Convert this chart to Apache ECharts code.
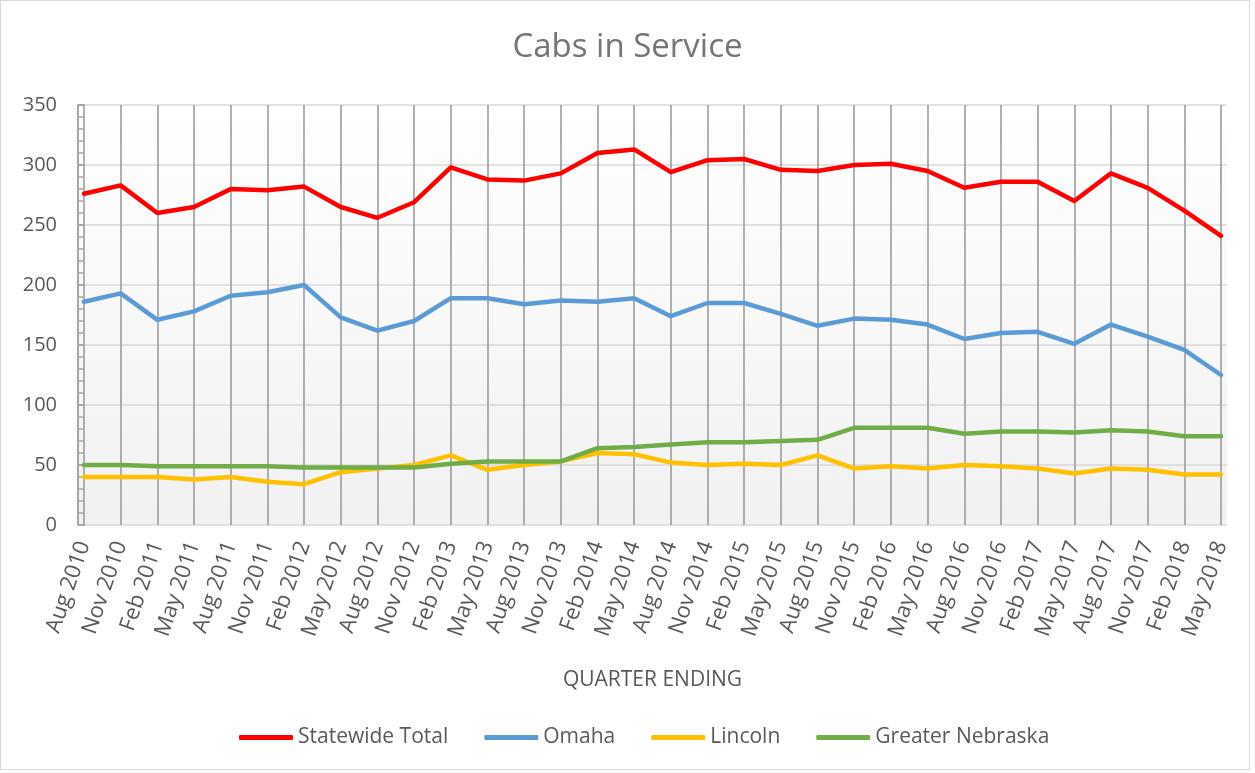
<!DOCTYPE html>
<html>
<head>
<meta charset="utf-8">
<title>Cabs in Service</title>
<script src="https://cdn.jsdelivr.net/npm/echarts@6/dist/echarts.min.js"></script>
<style>
  html, body { margin: 0; padding: 0; background: #fff; }
  #chartBox {
    position: absolute;
    left: 0; top: 0;
    width: 1250px; height: 770px;
    border: 1px solid #d9d9d9;
    box-sizing: border-box;
  }
  #chart { position: absolute; left: 0; top: 0; width: 1255px; height: 773px; }
</style>
</head>
<body>
<div id="chartBox"></div>
<div id="chart"></div>
<script>
// quarter labels
const quarters = [
  'Aug 2010', 'Nov 2010', 'Feb 2011', 'May 2011', 'Aug 2011', 'Nov 2011', 'Feb 2012', 'May 2012',
  'Aug 2012', 'Nov 2012', 'Feb 2013', 'May 2013', 'Aug 2013', 'Nov 2013', 'Feb 2014', 'May 2014',
  'Aug 2014', 'Nov 2014', 'Feb 2015', 'May 2015', 'Aug 2015', 'Nov 2015', 'Feb 2016', 'May 2016',
  'Aug 2016', 'Nov 2016', 'Feb 2017', 'May 2017', 'Aug 2017', 'Nov 2017', 'Feb 2018', 'May 2018'
];
const statewideTotal = [276, 283, 260, 265, 280, 279, 282, 265, 256, 269, 298, 288, 287, 293, 310, 313,
  294, 304, 305, 296, 295, 300, 301, 295, 281, 286, 286, 270, 293, 281, 262, 241];
const omaha = [186, 193, 171, 178, 191, 194, 200, 173, 162, 170, 189, 189, 184, 187, 186, 189,
  174, 185, 185, 176, 166, 172, 171, 167, 155, 160, 161, 151, 167, 157, 146, 125];
const lincoln = [40, 40, 40, 38, 40, 36, 34, 44, 47, 50, 58, 46, 50, 53, 60, 59,
  52, 50, 51, 50, 58, 47, 49, 47, 50, 49, 47, 43, 47, 46, 42, 42];
const greaterNebraska = [50, 50, 49, 49, 49, 49, 48, 48, 48, 48, 51, 53, 53, 53, 64, 65,
  67, 69, 69, 70, 71, 81, 81, 81, 76, 78, 78, 77, 79, 78, 74, 74];
const yTicks = [0, 50, 100, 150, 200, 250, 300, 350];

const textColor = '#595959';
const font = '"Open Sans", "Noto Sans", sans-serif';
const yMin = yTicks[0];
const yMax = yTicks[yTicks.length - 1];

function lineSeries(name, color, data) {
  return {
    name: name,
    type: 'line',
    xAxisIndex: 1,
    yAxisIndex: 1,
    data: data,
    symbol: 'none',
    lineStyle: { color: color, width: 4.5, cap: 'round', join: 'round' },
    itemStyle: { color: color }
  };
}

const chart = echarts.init(document.getElementById('chart'));
const option = {
  animation: false,
  title: {
    text: 'Cabs in Service',
    left: 'center',
    top: 26,
    textStyle: { color: '#757575', fontSize: 33, fontWeight: 'normal', fontFamily: font }
  },
  legend: {
    bottom: 20,
    left: 234,
    itemWidth: 54,
    itemHeight: 5,
    itemGap: 36,
    icon: 'roundRect',
    textStyle: { color: textColor, fontSize: 21, fontFamily: font },
    data: ['Statewide Total', 'Omaha', 'Lincoln', 'Greater Nebraska']
  },
  grid: [
    // plot area: background, y axis, horizontal lines
    {
      left: 78, right: 28, top: 105, bottom: 248,
      show: true,
      borderWidth: 0,
      backgroundColor: {
        type: 'linear', x: 0, y: 0, x2: 0, y2: 1,
        colorStops: [{ offset: 0, color: '#ffffff' }, { offset: 1, color: '#f1f1f1' }]
      }
    },
    // categories sit slightly inside the plot area
    { left: 84, right: 34, top: 105, bottom: 248 }
  ],
  xAxis: [
    { type: 'value', gridIndex: 0, min: 0, max: 1, show: false },
    {
      type: 'category',
      gridIndex: 1,
      data: quarters,
      boundaryGap: false,
      name: 'QUARTER ENDING',
      nameLocation: 'middle',
      nameGap: 145,
      nameTextStyle: { color: textColor, fontSize: 21, fontFamily: font },
      axisLine: { show: false },
      axisTick: { show: false },
      axisLabel: {
        interval: 0,
        rotate: 71,
        margin: 17,
        color: textColor,
        fontSize: 22,
        fontFamily: font
      },
      splitLine: {
        show: true,
        interval: 0,
        lineStyle: { color: '#9c9c9c', width: 1.6 }
      }
    }
  ],
  yAxis: [
    {
      type: 'value',
      gridIndex: 0,
      min: yMin,
      max: yMax,
      interval: 50,
      axisLine: { show: true, lineStyle: { color: '#a6a6a6', width: 2 } },
      axisTick: { show: true, inside: true, length: 7, lineStyle: { color: '#a6a6a6', width: 2 } },
      minorTick: { show: true, splitNumber: 5, length: 5, lineStyle: { color: '#a6a6a6', width: 1.5 } },
      axisLabel: { color: textColor, fontSize: 20, fontFamily: font, margin: 21 },
      splitLine: { show: true, lineStyle: { color: '#d9d9d9', width: 1.6 } }
    },
    { type: 'value', gridIndex: 1, min: yMin, max: yMax, show: false, splitLine: { show: false } }
  ],
  series: [
    lineSeries('Statewide Total', '#ff0000', statewideTotal),
    lineSeries('Omaha', '#5b9bd5', omaha),
    lineSeries('Lincoln', '#ffc000', lincoln),
    lineSeries('Greater Nebraska', '#70ad47', greaterNebraska)
  ]
};
chart.setOption(option);
</script>
</body>
</html>
